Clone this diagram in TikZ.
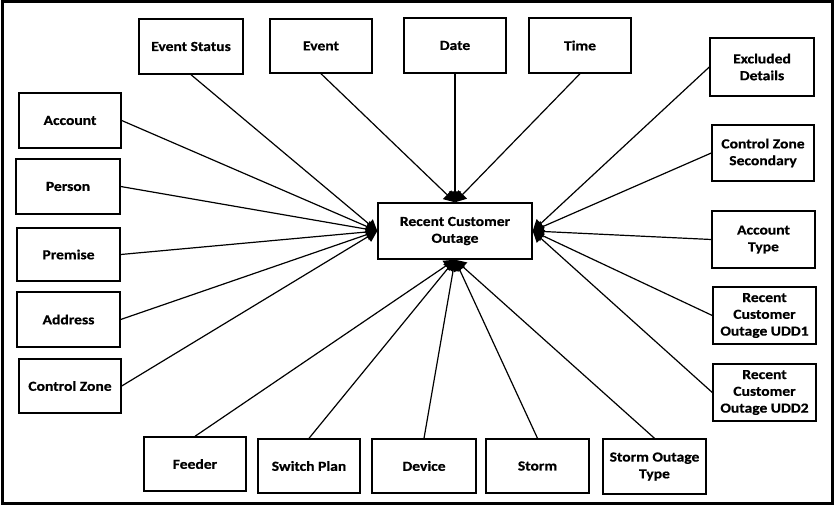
\documentclass[tikz,border=0pt]{standalone}
\usepackage{fontspec}
\newfontfamily\lblfont{Carlito}[FakeStretch=1.13,FakeBold=0.6]
\usetikzlibrary{arrows.meta}
\tikzset{
  box/.style={draw=black, line width=1.4pt, fill=white, align=center, inner sep=1pt,
    font=\lblfont\bfseries\fontsize{13.8}{16.8}\selectfont, text=black},
  conn/.style={draw=black, line width=1.2pt, -{Triangle[length=11pt,width=12pt]}}
}
\begin{document}
\begin{tikzpicture}[x=1pt,y=-1pt]
\useasboundingbox (0,0) rectangle (834,505);
\draw[line width=3pt] (2,2) rectangle (832,503);
% center
\node[box, minimum width=154pt, minimum height=56pt] (c) at (455,231) {Recent Customer\\Outage};
% top
\node[box, minimum width=104pt, minimum height=55pt] (es) at (191,46.5) {Event Status};
\node[box, minimum width=102pt, minimum height=54pt] (ev) at (321,46) {Event};
\node[box, minimum width=102pt, minimum height=55pt] (dt) at (455,45.5) {Date};
\node[box, minimum width=102pt, minimum height=55pt] (tm) at (580,45.5) {Time};
% right
\node[box, minimum width=104pt, minimum height=58pt] (ex) at (762,67) {Excluded\\Details};
\node[box, minimum width=102pt, minimum height=56pt] (czs) at (763,153) {Control Zone\\Secondary};
\node[box, minimum width=103pt, minimum height=57pt] (at) at (763.5,239.5) {Account\\Type};
\node[box, minimum width=103pt, minimum height=57pt] (u1) at (764.5,315.5) {Recent\\Customer\\Outage UDD1};
\node[box, minimum width=103pt, minimum height=57pt] (u2) at (764.5,392.5) {Recent\\Customer\\Outage UDD2};
% bottom
\node[box, minimum width=103pt, minimum height=55pt] (sot) at (654.5,466.5) {Storm Outage\\Type};
\node[box, minimum width=103pt, minimum height=54pt] (st) at (537.5,466) {Storm};
\node[box, minimum width=104pt, minimum height=54pt] (dv) at (424,466) {Device};
\node[box, minimum width=102pt, minimum height=54pt] (sp) at (309,466) {Switch Plan};
\node[box, minimum width=102pt, minimum height=54pt] (fd) at (195,464) {Feeder};
% left
\node[box, minimum width=102pt, minimum height=55pt] (ac) at (70,120.5) {Account};
\node[box, minimum width=104pt, minimum height=55pt] (pe) at (68,186.5) {Person};
\node[box, minimum width=103pt, minimum height=53pt] (pr) at (68.5,254.5) {Premise};
\node[box, minimum width=103pt, minimum height=55pt] (ad) at (68.5,319.5) {Address};
\node[box, minimum width=102pt, minimum height=54pt] (cz) at (70,386) {Control Zone};
% connectors
\draw[conn] (es.south) -- (c.west);
\draw[conn] (ac.east) -- (c.west);
\draw[conn] (pe.east) -- (c.west);
\draw[conn] (pr.east) -- (c.west);
\draw[conn] (ad.east) -- (c.west);
\draw[conn] (cz.east) -- (c.west);
\draw[conn] (ev.south) -- (c.north);
\draw[conn] (dt.south) -- (c.north);
\draw[conn] (tm.south) -- (c.north);
\draw[conn] (ex.west) -- (c.east);
\draw[conn] (czs.west) -- (c.east);
\draw[conn] (at.west) -- (c.east);
\draw[conn] (u1.west) -- (c.east);
\draw[conn] (u2.west) -- (c.east);
\draw[conn] (fd.north) -- (c.south);
\draw[conn] (sp.north) -- (c.south);
\draw[conn] (dv.north) -- (c.south);
\draw[conn] (st.north) -- (c.south);
\draw[conn] (sot.north) -- (c.south);
\end{tikzpicture}
\end{document}
